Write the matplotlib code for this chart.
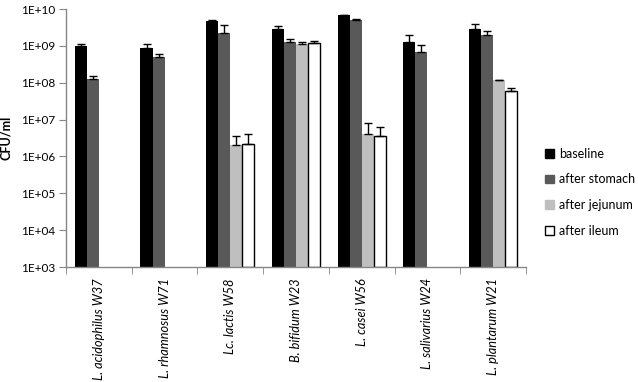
import numpy as np
import matplotlib
matplotlib.use("Agg")
import matplotlib.pyplot as plt
from matplotlib.patches import Patch

plt.rcParams['font.family'] = ['Lato', 'DejaVu Sans']

# =========================
# DATA
# =========================
strains = ["L. acidophilus W37", "L. rhamnosus W71", "Lc. lactis W58",
           "B. bifidum W23", "L. casei W56", "L. salivarius W24",
           "L. plantarum W21"]
series = ["baseline", "after stomach", "after jejunum", "after ileum"]

nan = np.nan
baseline = [1.0e9, 8.8e8, 4.7e9, 2.9e9, 6.8e9, 1.3e9, 2.9e9]
stomach = [1.24e8, 4.9e8, 2.25e9, 1.28e9, 5.0e9, 6.9e8, 2.0e9]
jejunum = [nan, nan, 2.1e6, 1.13e9, 4.0e6, nan, 1.16e8]
ileum = [nan, nan, 2.2e6, 1.2e9, 3.7e6, nan, 6.0e7]

# upper end of the error bars
baseline_err = [1.1e9, 1.09e9, 4.96e9, 3.5e9, 6.9e9, 1.95e9, 4.0e9]
stomach_err = [1.5e8, 5.9e8, 3.6e9, 1.5e9, 5.5e9, 1.04e9, 2.6e9]
jejunum_err = [nan, nan, 3.5e6, 1.28e9, 8.1e6, nan, 1.2e8]
ileum_err = [nan, nan, 4.0e6, 1.34e9, 6.2e6, nan, 7.2e7]

ytick_exp = [3, 4, 5, 6, 7, 8, 9, 10]

colors = ["#000000", "#595959", "#bfbfbf", "#ffffff"]
edges = ["none", "none", "none", "#000000"]

# =========================
# PLOT
# =========================
fig = plt.figure(figsize=(6.38, 3.82), dpi=100)
ax = fig.add_axes([0.1034, 0.301, 0.7211, 0.6754])

x = np.arange(len(strains))
w = 0.183
floor = 1e3
vals = [baseline, stomach, jejunum, ileum]
tops = [baseline_err, stomach_err, jejunum_err, ileum_err]

for i in range(4):
    v = np.array(vals[i])
    t = np.array(tops[i])
    pos = x + (i - 1.5) * w
    ax.bar(pos, v - floor, bottom=floor, width=w, color=colors[i],
           edgecolor=edges[i], linewidth=1.0, label=series[i], zorder=2)
    ax.errorbar(pos, v, yerr=[np.zeros_like(v), t - v], fmt="none",
                ecolor="black", elinewidth=1.0, capsize=3, capthick=1.0, zorder=3)

ax.set_yscale("log")
ax.set_ylim(1e3, 1e10)
ax.set_xlim(-0.5, len(strains) - 0.5)

ax.set_yticks([10.0 ** k for k in ytick_exp])
ax.set_yticklabels(["1E+%02d" % k for k in ytick_exp], fontsize=8.5)
ax.yaxis.set_minor_locator(matplotlib.ticker.NullLocator())

ax.set_xticks(x)
ax.set_xticklabels(strains, rotation=90, fontsize=9.2, style="italic")
ax.set_xticks(np.arange(-0.5, len(strains)), minor=True)
ax.tick_params(axis="x", which="major", length=0, pad=8)
ax.tick_params(axis="x", which="minor", length=5, color="#868686", direction="out")
ax.tick_params(axis="y", length=5, color="#868686", direction="out", pad=3)

for s in ["top", "right"]:
    ax.spines[s].set_visible(False)
for s in ["left", "bottom"]:
    ax.spines[s].set_color("#868686")
    ax.spines[s].set_linewidth(1.0)

ax.set_ylabel("CFU/ml", fontsize=9, fontweight="bold", labelpad=6)

handles = [Patch(facecolor=colors[i], edgecolor="black" if i == 3 else colors[i],
                 linewidth=1.0) for i in range(4)]
fig.legend(handles, series, loc="upper left", bbox_to_anchor=(0.845, 0.63),
           frameon=False, fontsize=9, handlelength=0.7, handleheight=0.7,
           handletextpad=0.4, labelspacing=1.1, borderpad=0)

fig.savefig("out.png", dpi=100)
